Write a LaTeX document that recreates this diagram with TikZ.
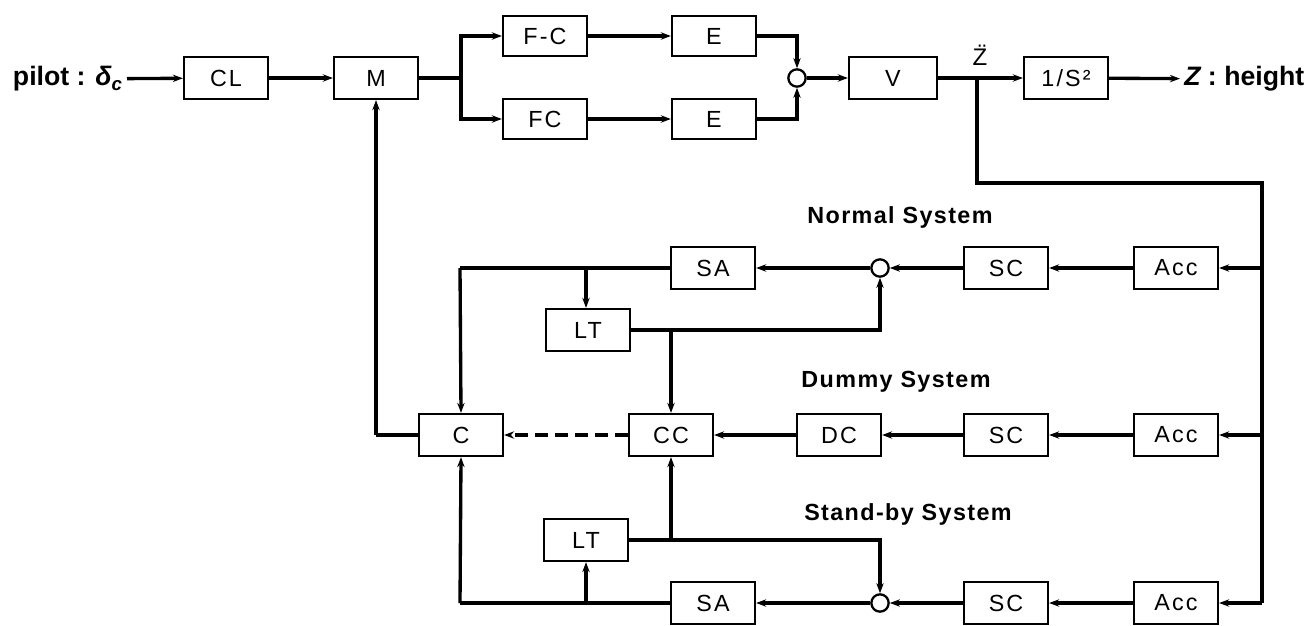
\documentclass[tikz,border=0pt]{standalone}
\usepackage{fontspec}
\setmainfont{Liberation Sans}
\usetikzlibrary{arrows.meta}
\newcommand\bxfont{\fontsize{17.5}{20}\selectfont\addfontfeatures{LetterSpace=9}}
\newcommand\sysfont{\fontsize{17.5}{20}\selectfont\bfseries\addfontfeatures{LetterSpace=6}}
\begin{document}
\begin{tikzpicture}[x=0.75pt,y=-0.75pt,
  blk/.style={draw, line width=1.7pt, minimum width=63pt, minimum height=31.5pt, inner sep=0pt, font=\bxfont},
  sumc/.style={draw, circle, line width=1.7pt, minimum size=13pt, inner sep=0pt},
  wire/.style={line width=2.5pt},
  arr/.style={wire, -{Stealth[length=7.5pt,width=5.5pt]}},
  dsh/.style={arr, dash pattern=on 10pt off 5pt},
  syslbl/.style={font=\sysfont, inner sep=0pt},
  iolbl/.style={font=\fontsize{20}{23}\selectfont\bfseries, inner sep=3pt}]
\useasboundingbox (0,0) rectangle (1308,625);
% main row
\node[iolbl, anchor=east] (pilot) at (127,79) {pilot : \itshape δ\textsubscript{c}};
\node[blk] (cl) at (226,78) {CL};
\node[blk] (m) at (376,78) {M};
\node[blk, minimum height=30pt] (fc1) at (545,36) {F-C};
\node[blk, minimum height=30pt] (e1) at (714,36) {E};
\node[blk, minimum height=30pt] (fc2) at (545,119) {FC};
\node[blk, minimum height=30pt] (e2) at (714,119) {E};
\node[sumc] (s0) at (797,78) {};
\node[blk, minimum width=66pt] (v) at (893,78) {V};
\node[blk] (integ) at (1066,78) {1/S²};
\node[iolbl, anchor=west] (zout) at (1180,79) {\itshape Z\upshape{} : height};
\node[iolbl, inner sep=0pt, font=\fontsize{18}{21}\selectfont] (zdd) at (980,55) {\"{Z}};
\coordinate (split) at (461,78);
\coordinate (zb) at (977,78);
\coordinate (rtop) at (1262,183);
\coordinate (rbot) at (1262,603);
\draw[arr] (pilot) -- (cl);
\draw[arr] (cl) -- (m);
\draw[wire] (m.east) -- (split);
\draw[arr] (split) |- (fc1.west);
\draw[arr] (split) |- (fc2.west);
\draw[arr] (fc1) -- (e1);
\draw[arr] (fc2) -- (e2);
\draw[arr] (e1.east) -| (s0.north);
\draw[arr] (e2.east) -| (s0.south);
\draw[arr] (s0) -- (v);
\draw[arr] (v) -- (integ);
\draw[arr] (integ) -- (zout);
\draw[wire] (zb) |- (rtop) -- (rbot);
% normal system
\node[syslbl] (nlab) at (900,217) {Normal System};
\node[blk] (acc1) at (1176,268) {Acc};
\node[blk] (sc1) at (1006,268) {SC};
\node[sumc] (s1) at (880,268) {};
\node[blk] (sa1) at (713,268) {SA};
\node[blk] (lt1) at (588,330) {LT};
% dummy system
\node[syslbl] (dlab) at (896,382) {Dummy System};
\node[blk] (acc2) at (1176,435) {Acc};
\node[blk] (sc2) at (1006,435) {SC};
\node[blk] (dc) at (839,435) {DC};
\node[blk] (cc) at (671,435) {CC};
\node[blk] (c) at (461,435) {C};
% stand-by system
\node[syslbl] (slab) at (908,514) {Stand-by System};
\node[blk] (acc3) at (1176,603) {Acc};
\node[blk] (sc3) at (1006,603) {SC};
\node[sumc] (s2) at (880,603) {};
\node[blk] (sa2) at (713,603) {SA};
\node[blk] (lt2) at (586,540) {LT};
% junction coordinates
\coordinate (ctop) at (460,268);
\coordinate (cbot) at (460,603);
\coordinate (lt1j) at (586,268);
\coordinate (lt2j) at (586,603);
\coordinate (cc1j) at (671,330);
\coordinate (cc2j) at (671,540);
\coordinate (mret) at (376,435);
% feedback wiring
\draw[arr] (acc1.east -| rtop) -- (acc1.east);
\draw[arr] (acc2.east -| rtop) -- (acc2.east);
\draw[arr] (rbot) -- (acc3.east);
\draw[arr] (acc1) -- (sc1);
\draw[arr] (sc1) -- (s1);
\draw[arr] (s1) -- (sa1);
\draw[wire] (sa1.west) -- (ctop);
\draw[arr] (ctop) -- (c.north);
\draw[arr] (lt1j) -- (lt1j |- lt1.north);
\draw[arr] (lt1.east) -| (s1.south);
\draw[arr] (cc1j) -- (cc.north);
\draw[arr] (acc2) -- (sc2);
\draw[arr] (sc2) -- (dc);
\draw[arr] (dc) -- (cc);
\draw[dsh] (cc) -- (c);
\draw[wire] (c.west) -- (mret);
\draw[arr] (mret) -- (m.south);
\draw[arr] (acc3) -- (sc3);
\draw[arr] (sc3) -- (s2);
\draw[arr] (s2) -- (sa2);
\draw[wire] (sa2.west) -- (cbot);
\draw[arr] (cbot) -- (c.south);
\draw[arr] (lt2j) -- (lt2j |- lt2.south);
\draw[arr] (lt2.east) -| (s2.north);
\draw[arr] (cc2j) -- (cc.south);
\end{tikzpicture}
\end{document}
